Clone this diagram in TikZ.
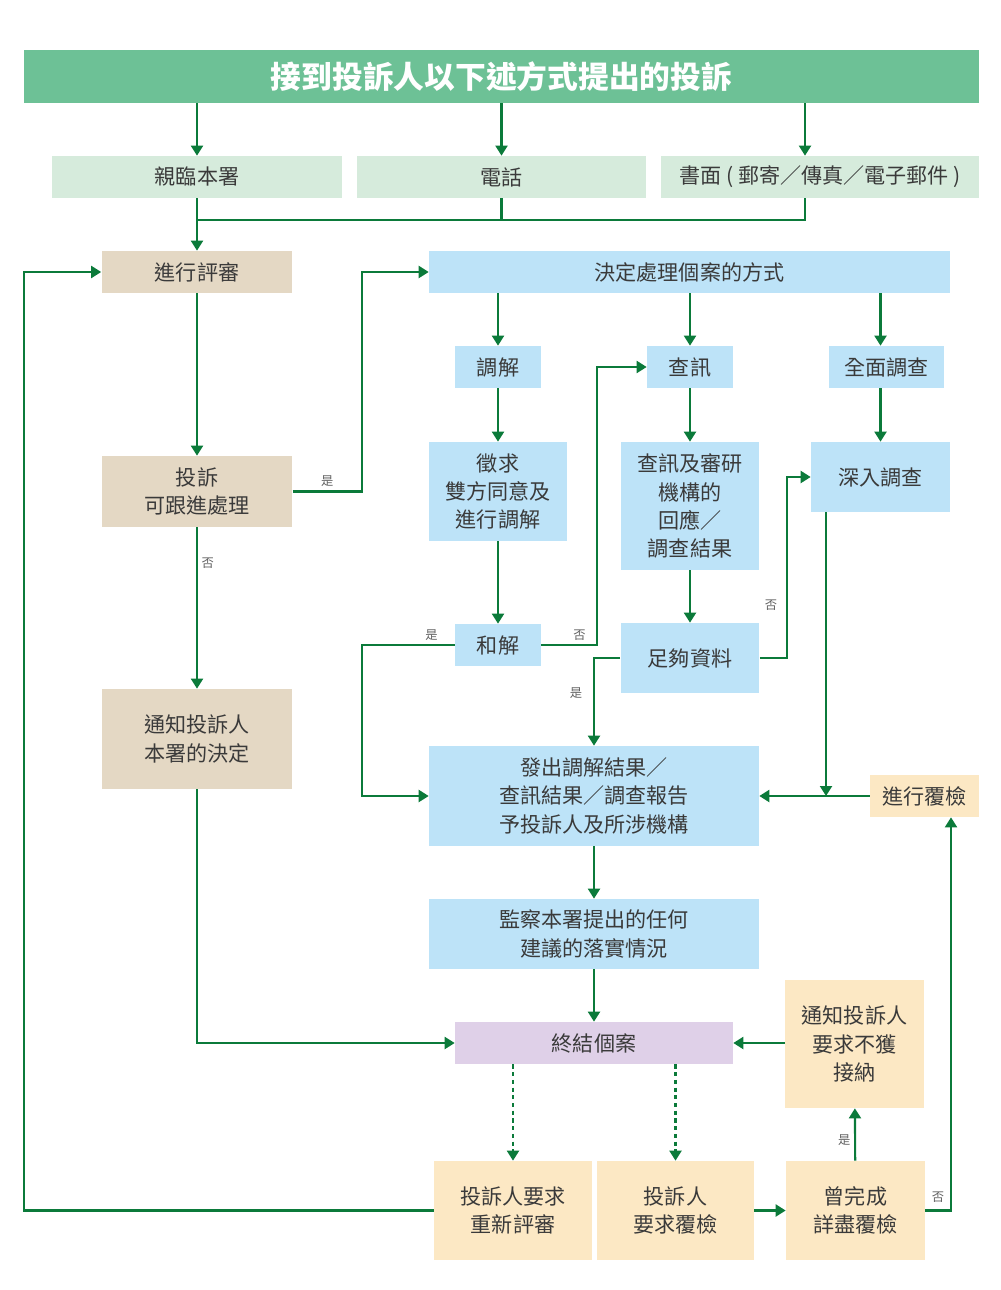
\documentclass[tikz,border=0pt]{standalone}
\usepackage{fontspec}
\setmainfont{Noto Sans CJK TC}
\usetikzlibrary{arrows.meta, calc}

\definecolor{headgreen}{HTML}{6DC196}
\definecolor{srcgreen}{HTML}{D6EBDC}
\definecolor{tan}{HTML}{E4D8C4}
\definecolor{skyblue}{HTML}{BDE3F8}
\definecolor{lilac}{HTML}{DFD0E8}
\definecolor{cream}{HTML}{FCE8C4}
\definecolor{linegreen}{HTML}{0B7A3A}
\definecolor{txtgray}{HTML}{3A3A3A}

\tikzstyle{boxes} = [rectangle, inner sep=0pt, align=center, text=txtgray, font=\fontsize{12}{16}\selectfont]
\tikzstyle{titlebox} = [boxes, fill=headgreen, text=white, font=\fontsize{17.5}{20}\selectfont\bfseries]
\tikzstyle{srcbox} = [boxes, fill=srcgreen, minimum height=0.84cm]
\tikzstyle{tanbox} = [boxes, fill=tan, minimum width=3.82cm]
\tikzstyle{bluebox} = [boxes, fill=skyblue]
\tikzstyle{lilacbox} = [boxes, fill=lilac]
\tikzstyle{creambox} = [boxes, fill=cream]
\tikzstyle{yn} = [inner sep=2pt, text=txtgray!80, font=\fontsize{7}{8}\selectfont]
\tikzstyle{line} = [line width=1.2pt, linegreen]
\tikzstyle{arrow} = [line width=1.2pt, linegreen, -{Triangle[width=0.24cm, length=0.2cm]}]
\tikzstyle{dotarrow} = [arrow, dash pattern=on 2.4pt off 2pt]

\begin{document}
\begin{tikzpicture}[x=0.02cm, y=-0.02cm]

    \useasboundingbox (0,0) rectangle (1000,1290);

    % sources
    \node (title) [titlebox, minimum width=19.1cm, minimum height=1.06cm] at (501.5,76.5) {接到投訴人以下述方式提出的投訴};
    \node (src1) [srcbox, minimum width=5.8cm] at (197,177) {親臨本署};
    \node (src2) [srcbox, minimum width=5.78cm] at (501.5,177) {電話};
    \node (src3) [srcbox, minimum width=6.36cm] at (820,177) {書面 ( 郵寄／傳真／電子郵件 )};

    % left column
    \node (assess) [tanbox, minimum height=0.84cm] at (197,272) {進行評審};
    \node (follow) [tanbox, minimum height=1.42cm] at (197,491.5) {投訴\\可跟進處理};
    \node (notify) [tanbox, minimum height=2cm] at (197,739) {通知投訴人\\本署的決定};

    % handling
    \node (decide) [bluebox, minimum width=10.42cm, minimum height=0.84cm] at (689.5,272) {決定處理個案的方式};
    \node (mediate) [bluebox, minimum width=1.72cm, minimum height=0.84cm] at (498,367) {調解};
    \node (inquiry) [bluebox, minimum width=1.72cm, minimum height=0.84cm] at (690,367) {查訊};
    \node (fullinv) [bluebox, minimum width=2.3cm, minimum height=0.84cm] at (886.5,367) {全面調查};
    \node (consent) [bluebox, minimum width=2.78cm, minimum height=1.98cm] at (498,491.5) {徵求\\雙方同意及\\進行調解};
    \node (review) [bluebox, minimum width=2.78cm, minimum height=2.56cm] at (690,506) {查訊及審研\\機構的\\回應／\\調查結果};
    \node (deep) [bluebox, minimum width=2.78cm, minimum height=1.4cm] at (880.5,477) {深入調查};
    \node (settle) [bluebox, minimum width=1.72cm, minimum height=0.84cm] at (498,645) {和解};
    \node (enough) [bluebox, minimum width=2.78cm, minimum height=1.4cm] at (690,658) {足夠資料};
    \node (issue) [bluebox, minimum width=6.6cm, minimum height=2cm] at (594,796) {發出調解結果／\\查訊結果／調查報告\\予投訴人及所涉機構};
    \node (recheck) [creambox, minimum width=2.18cm, minimum height=0.84cm] at (924.5,796) {進行覆檢};
    \node (monitor) [bluebox, minimum width=6.6cm, minimum height=1.4cm] at (594,934) {監察本署提出的任何\\建議的落實情況};

    % closing
    \node (close) [lilacbox, minimum width=5.56cm, minimum height=0.84cm] at (594,1043) {終結個案};
    \node (notaccept) [creambox, minimum width=2.78cm, minimum height=2.56cm] at (854.5,1044) {通知投訴人\\要求不獲\\接納};
    \node (reassess) [creambox, minimum width=3.16cm, minimum height=1.98cm] at (513,1210.5) {投訴人要求\\重新評審};
    \node (reqrev) [creambox, minimum width=3.14cm, minimum height=1.98cm] at (675.5,1210.5) {投訴人\\要求覆檢};
    \node (done) [creambox, minimum width=2.78cm, minimum height=1.98cm] at (855.5,1210.5) {曾完成\\詳盡覆檢};

    % yes / no labels
    \node (noDeep) [yn] at (771,605) {否};
    \node (yesEnough) [yn] at (576,693) {是};
    \node (noDone) [yn] at (938,1197) {否};

    \draw[arrow] (src1.north |- title.south) -- (src1.north);
    \draw[arrow] (src2.north |- title.south) -- (src2.north);
    \draw[arrow] ([xshift=-0.3cm]src3.north |- title.south) -- ([xshift=-0.3cm]src3.north);
    \draw[line] (src1.south) -- ++(0,22) -| ([xshift=-0.3cm]src3.south);
    \draw[line] (src2.south) -- ++(0,22);
    \draw[arrow] (src1.south) -- (assess.north);

    \draw[arrow] (assess) -- (follow);
    \draw[arrow] (follow.east) -- node[yn, above, pos=0.5] (yesFollow) {是} ++(69,0) |- (decide.west);
    \draw[arrow] (follow) -- node[yn, right, pos=0.22] (noFollow) {否} (notify);
    \draw[arrow] (notify.south) |- (close.west);

    \draw[arrow] (decide.south -| mediate.north) -- (mediate.north);
    \draw[arrow] (decide.south -| inquiry.north) -- (inquiry.north);
    \draw[arrow] (deep.north |- decide.south) -- (deep.north |- fullinv.north);
    \draw[arrow] (deep.north |- fullinv.south) -- (deep.north);

    \draw[arrow] (mediate) -- (consent);
    \draw[arrow] (consent) -- (settle);
    \draw[arrow] (settle.west) -- node[yn, above, pos=0.25] (yesSettle) {是} ++(-93,0) |- (issue.west);
    \draw[arrow] (settle.east) -- node[yn, above, pos=0.68] (noSettle) {否} ++(56,0) |- (inquiry.west);

    \draw[arrow] (inquiry) -- (review);
    \draw[arrow] (review) -- (enough);
    \draw[arrow] (enough.west) -| (issue.north);
    \draw[arrow] (enough.east) -- ++(27,0) |- (deep.west);
    \draw[arrow] ([xshift=-1.09cm]deep.south) -- ([xshift=-1.09cm]deep.south |- recheck.west);
    \draw[arrow] (recheck.west) -- (issue.east);

    \draw[arrow] (issue) -- (monitor);
    \draw[arrow] (monitor) -- (close);
    \draw[arrow] (close.east -| notaccept.west) -- (close.east);

    \draw[dotarrow] (close.south -| reassess.north) -- (reassess.north);
    \draw[dotarrow] (close.south -| reqrev.north) -- (reqrev.north);
    \draw[arrow] (reqrev) -- (done);
    \draw[arrow] (done) -- node[yn, left, pos=0.4] (yesDone) {是} (notaccept);
    \draw[arrow] (done.east) -| ([xshift=0.53cm]recheck.south);
    \draw[arrow] (reassess.west) -- ++(-410,0) |- (assess.west);

    \end{tikzpicture}
\end{document}
